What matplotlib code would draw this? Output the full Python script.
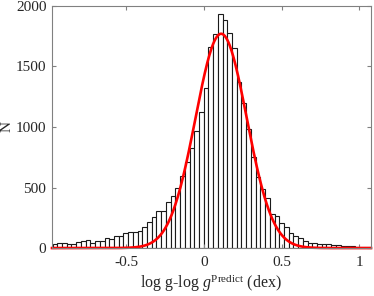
import numpy as np
import matplotlib
matplotlib.use("Agg")
import matplotlib.pyplot as plt

plt.rcParams['font.family'] = ['Liberation Serif', 'DejaVu Serif']
plt.rcParams['mathtext.fontset'] = 'custom'
plt.rcParams['mathtext.rm'] = 'Liberation Serif'
plt.rcParams['mathtext.it'] = 'Liberation Serif:italic'

# histogram of log g residuals
bin_start = -0.975
bin_width = 0.0304
counts = [33, 44, 40, 30, 36, 50, 62, 66, 45, 55,
          58, 80, 76, 102, 99, 121, 130, 135, 140, 176,
          215, 254, 303, 303, 378, 427, 498, 598, 708, 824,
          967, 1126, 1325, 1664, 1769, 1936, 1882, 1779, 1650, 1374,
          1196, 981, 750, 590, 485, 410, 283, 262, 209, 171,
          127, 99, 80, 55, 45, 40, 32, 30, 35, 26,
          22, 20, 16, 14, 12, 10, 8, 10]

# gaussian fit
fit_amp = 1770
fit_mu = 0.11
fit_sigma = 0.165

xlim = (-0.979, 1.075)
ylim = (0, 2000)
xticks = [-0.5, 0, 0.5, 1]
yticks = [0, 500, 1000, 1500, 2000]

edges = bin_start + bin_width * np.arange(len(counts) + 1)

fig = plt.figure(figsize=(3.74, 2.96), dpi=100)
ax = fig.add_axes([0.139, 0.162, 0.853, 0.818])

ax.bar(edges[:-1], counts, width=bin_width, align='edge',
       facecolor='white', edgecolor='#1a1a1a', linewidth=0.8)

xs = np.linspace(xlim[0], xlim[1], 500)
ax.plot(xs, fit_amp * np.exp(-0.5 * ((xs - fit_mu) / fit_sigma) ** 2),
        color='red', lw=1.9, clip_on=False)

ax.set_xlim(*xlim)
ax.set_ylim(*ylim)
ax.set_xticks(xticks)
ax.set_xticklabels(['-0.5', '0', '0.5', '1'])
ax.set_yticks(yticks)

gray = '#808080'
for s in ax.spines.values():
    s.set_color(gray)
    s.set_linewidth(0.8)
ax.tick_params(direction='in', length=3, width=0.8, color=gray,
               labelcolor='#262626', labelsize=11, top=True, right=True)
ax.tick_params(axis='x', pad=6)
ax.tick_params(axis='y', pad=4)

ax.set_ylabel('N', fontsize=11, color='#262626', labelpad=2)
ax.set_xlabel(r'log g-log $\mathit{g}^{\mathrm{Predict}}$ (dex)',
              fontsize=11.5, color='#262626', labelpad=2)

fig.savefig('out.png', dpi=100)
